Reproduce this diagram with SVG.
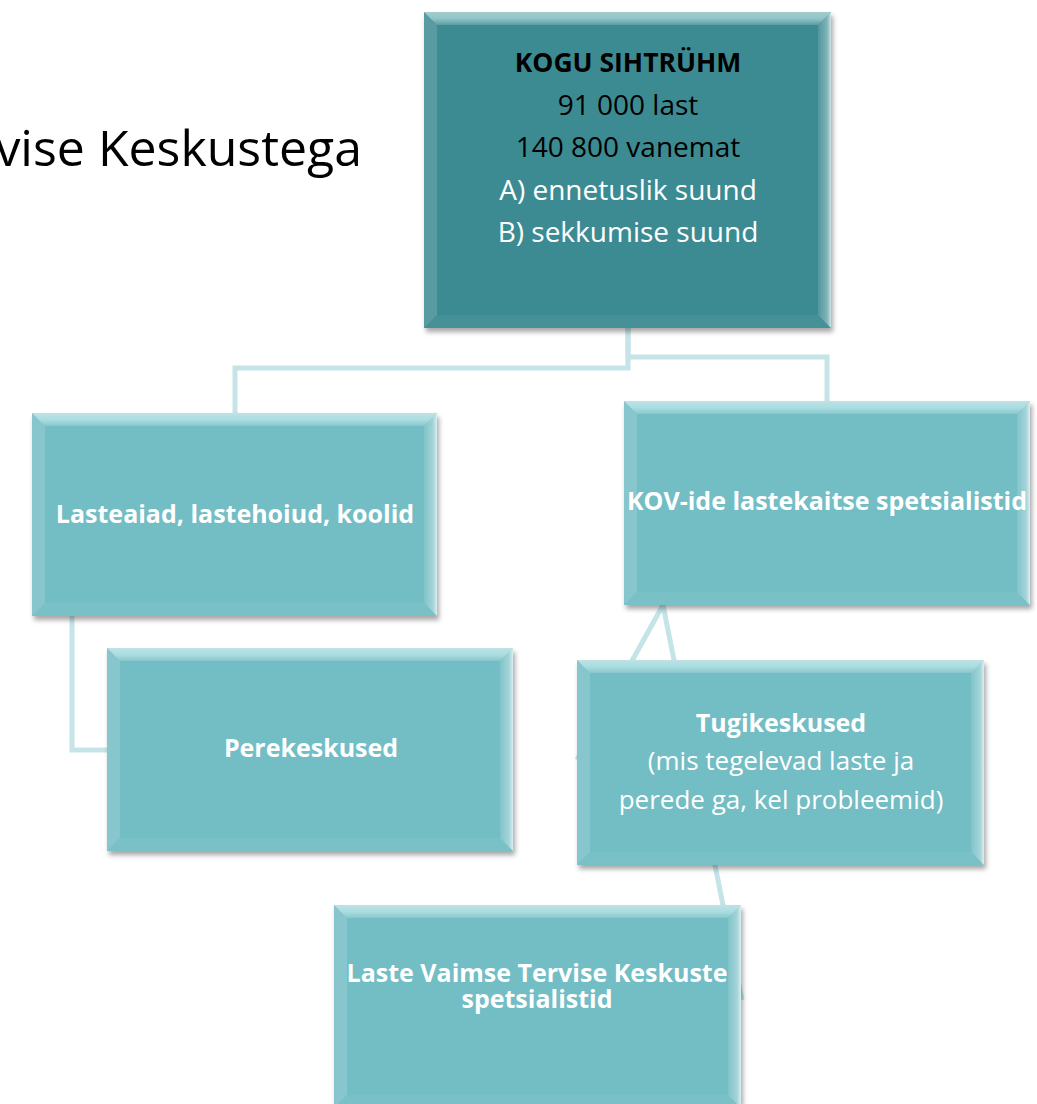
<svg xmlns="http://www.w3.org/2000/svg" width="1037" height="1104" viewBox="0 0 1037 1104">
<defs>
<style>
.conn{fill:none;stroke:#C5E4E7;stroke-width:5;stroke-linejoin:miter}
.box{fill:#73BDC4}
.dark{fill:#3E8B92}
.bt{fill:url(#gTop)}
.bl{fill:#FFFFFF;fill-opacity:0.14}
.br{fill:url(#gRight)}
.bb{fill:#FFFFFF;fill-opacity:0.05}
.t{font-family:"Open Sans","DejaVu Sans",sans-serif;text-anchor:middle;fill:#FFFFFF}
.b{font-weight:bold}
.k{fill:#000000}
.title{font-family:"Open Sans","Liberation Sans",sans-serif;font-size:50px;fill:#000000;text-anchor:end}
</style>
<linearGradient id="gTop" x1="0" y1="0" x2="0" y2="1">
<stop offset="0" stop-color="#FFFFFF" stop-opacity="0.55"/>
<stop offset="0.5" stop-color="#DFFFFF" stop-opacity="0.5"/>
<stop offset="1" stop-color="#FFFFFF" stop-opacity="0.15"/>
</linearGradient>
<linearGradient id="gRight" x1="0" y1="0" x2="1" y2="0">
<stop offset="0" stop-color="#FFFFFF" stop-opacity="0.1"/>
<stop offset="0.7" stop-color="#FFFFFF" stop-opacity="0.35"/>
<stop offset="1" stop-color="#FFFFFF" stop-opacity="0.75"/>
</linearGradient>
<filter id="sh" x="-5%" y="-5%" width="115%" height="115%">
<feDropShadow dx="2" dy="4" stdDeviation="2.5" flood-color="#000000" flood-opacity="0.35"/>
</filter>
</defs>
<rect width="1037" height="1104" fill="#FFFFFF"/>
<text class="title" x="362" y="166">vise Keskustega</text>

<g id="connectors">
<path class="conn" d="M628,328 V368 H235 V413"/>
<path class="conn" d="M628,328 V357 H827 V401"/>
<path class="conn" d="M72,616 V750 H107"/>
<path class="conn" d="M663,605 L577,760"/>
<path class="conn" d="M663,605 L742,1000"/>
</g>

<g id="n-kogu" transform="translate(424,12)">
<rect class="dark" width="407" height="316" filter="url(#sh)"/>
<polygon class="bt" points="0,0 407,0 394,13 13,13"/>
<polygon class="bl" points="0,0 13,13 13,303 0,316"/>
<polygon class="br" points="407,0 407,316 394,303 394,13"/>
<polygon class="bb" points="0,316 13,303 394,303 407,316"/>
<text class="t" font-size="28"><tspan class="b k" font-size="26.5" x="204" y="60">KOGU SIHTRÜHM</tspan><tspan class="k" x="204" y="103">91 000 last</tspan><tspan class="k" x="204" y="145">140 800 vanemat</tspan><tspan x="204" y="188">A) ennetuslik suund</tspan><tspan x="204" y="230">B) sekkumise suund</tspan></text>
</g>

<g id="n-lasteaiad" transform="translate(32,413)">
<rect class="box" width="405" height="203" filter="url(#sh)"/>
<polygon class="bt" points="0,0 405,0 392,13 13,13"/>
<polygon class="bl" points="0,0 13,13 13,190 0,203"/>
<polygon class="br" points="405,0 405,203 392,190 392,13"/>
<polygon class="bb" points="0,203 13,190 392,190 405,203"/>
<text class="t b" font-size="25" x="203" y="110">Lasteaiad, lastehoiud, koolid</text>
</g>

<g id="n-kov" transform="translate(624,401)">
<rect class="box" width="406" height="204" filter="url(#sh)"/>
<polygon class="bt" points="0,0 406,0 393,13 13,13"/>
<polygon class="bl" points="0,0 13,13 13,191 0,204"/>
<polygon class="br" points="406,0 406,204 393,191 393,13"/>
<polygon class="bb" points="0,204 13,191 393,191 406,204"/>
<text class="t b" font-size="25" x="203" y="109">KOV-ide lastekaitse spetsialistid</text>
</g>

<g id="n-perekeskused" transform="translate(107,648)">
<rect class="box" width="406" height="203" filter="url(#sh)"/>
<polygon class="bt" points="0,0 406,0 393,13 13,13"/>
<polygon class="bl" points="0,0 13,13 13,190 0,203"/>
<polygon class="br" points="406,0 406,203 393,190 393,13"/>
<polygon class="bb" points="0,203 13,190 393,190 406,203"/>
<text class="t b" font-size="25" x="204" y="109">Perekeskused</text>
</g>

<g id="n-tugikeskused" transform="translate(577,660)">
<rect class="box" width="407" height="205" filter="url(#sh)"/>
<polygon class="bt" points="0,0 407,0 394,13 13,13"/>
<polygon class="bl" points="0,0 13,13 13,192 0,205"/>
<polygon class="br" points="407,0 407,205 394,192 394,13"/>
<polygon class="bb" points="0,205 13,192 394,192 407,205"/>
<text class="t" font-size="26"><tspan class="b" font-size="25" x="204" y="72">Tugikeskused</tspan><tspan x="204" y="110">(mis tegelevad laste ja</tspan><tspan x="204" y="149">perede ga, kel probleemid)</tspan></text>
</g>

<g id="n-lvtk" transform="translate(334,905)">
<rect class="box" width="407" height="203" filter="url(#sh)"/>
<polygon class="bt" points="0,0 407,0 394,13 13,13"/>
<polygon class="bl" points="0,0 13,13 13,190 0,203"/>
<polygon class="br" points="407,0 407,203 394,190 394,13"/>
<polygon class="bb" points="0,203 13,190 394,190 407,203"/>
<text class="t b" font-size="25"><tspan x="203" y="77">Laste Vaimse Tervise Keskuste</tspan><tspan x="203" y="103">spetsialistid</tspan></text>
</g>
</svg>
